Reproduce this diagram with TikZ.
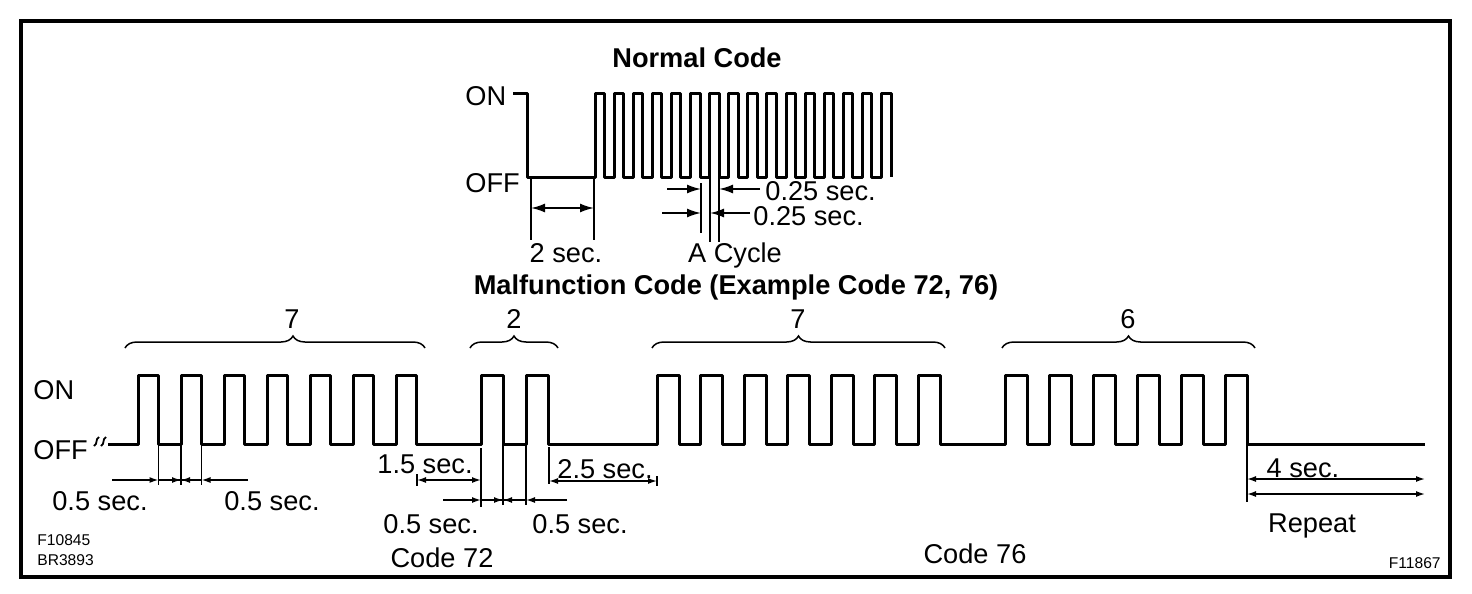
\documentclass[tikz,border=0pt]{standalone}
\usepackage{fontspec}
\setmainfont{Liberation Sans}
\usetikzlibrary{arrows.meta,decorations.pathreplacing}
\tikzset{
    wave/.style={line width=1.5pt, line join=round},
    dimline/.style={line width=0.75pt, >={Latex[length=4.5pt,width=3pt]}},
    bigdim/.style={line width=0.9pt, >={Latex[length=7pt,width=4.5pt]}},
    codebrace/.style={decorate, decoration={brace, amplitude=6pt}, line width=0.75pt},
    lbl/.style={inner sep=0pt, anchor=base, font=\fontsize{13.6}{15}\selectfont},
    heading/.style={inner sep=0pt, anchor=base, font=\fontsize{13.6}{15}\selectfont\bfseries},
    smalltext/.style={inner sep=0pt, font=\fontsize{7.8}{9}\selectfont}
}
\begin{document}
\begin{tikzpicture}[x=0.5pt, y=-0.5pt]
        \useasboundingbox (0,0) rectangle (1472,594);
        % Frame:
        \draw[line width=1.6pt] (21,21) rectangle (1450,577);
        % Normal code:
        \node[heading](NormTitle) at (697,67){Normal Code};
        \node[lbl, anchor=base west](NormOn) at (465,105){ON};
        \node[lbl, anchor=base west](NormOff) at (465,192){OFF};
        \draw[wave] (513,93) -- (527,93) -- (527,177) -- (595,177)
            \foreach \k in {0,...,15} { -- (595+19.1*\k,177) -- (595+19.1*\k,93) -- (604.5+19.1*\k,93) -- (604.5+19.1*\k,177) };
        \draw[bigdim] (531,177) -- (531,240);
        \draw[bigdim] (594,177) -- (594,240);
        \draw[bigdim, <->] (531,208) -- (594,208);
        \node[lbl](TwoSec) at (566,262){2 sec.};
        \draw[bigdim] (701,183) -- (701,233);
        \draw[bigdim] (710,177) -- (710,242);
        \draw[bigdim] (719,177) -- (719,242);
        \draw[bigdim, ->] (667,189) -- (701,189);
        \draw[bigdim, ->] (760,189) -- (719,189);
        \draw[bigdim, ->] (662,213) -- (701,213);
        \draw[bigdim, ->] (750,213) -- (710,213);
        \node[lbl, anchor=base west](QuarterA) at (765,200){0.25 sec.};
        \node[lbl, anchor=base west](QuarterB) at (753,225){0.25 sec.};
        \node[lbl](Cycle) at (735,262){A Cycle};
        % Malfunction code:
        \node[heading](MalTitle) at (736,294){Malfunction Code (Example Code 72, 76)};
        \node[lbl, anchor=base west](MalOn) at (33,399){ON};
        \node[lbl, anchor=base west](MalOff) at (33,459){OFF};
        \draw[line width=0.9pt] (94,446) .. controls (98,444) and (95,439) .. (99,437);
        \draw[line width=0.9pt] (101,446) .. controls (105,444) and (102,439) .. (106,437);
        \draw[wave] (108,444)
            \foreach \k in {0,...,6} { -- (138+43*\k,444) -- (138+43*\k,375) -- (158.5+43*\k,375) -- (158.5+43*\k,444) }
            \foreach \k in {0,1} { -- (481+45*\k,444) -- (481+45*\k,375) -- (503+45*\k,375) -- (503+45*\k,444) }
            \foreach \k in {0,...,6} { -- (657+43.5*\k,444) -- (657+43.5*\k,375) -- (679+43.5*\k,375) -- (679+43.5*\k,444) }
            \foreach \k in {0,...,5} { -- (1005+44*\k,444) -- (1005+44*\k,375) -- (1027+44*\k,375) -- (1027+44*\k,444) }
            -- (1425,444);
        % Braces:
        \draw[codebrace, decoration={aspect=0.56}] (125,348) -- (425,348);
        \node[lbl](DigitA) at (292,328){7};
        \draw[codebrace] (470,348) -- (558,348);
        \node[lbl](DigitB) at (514,328){2};
        \draw[codebrace] (652,348) -- (945,348);
        \node[lbl](DigitC) at (798,328){7};
        \draw[codebrace] (1002,348) -- (1255,348);
        \node[lbl](DigitD) at (1128,328){6};
        % Timing of code 72:
        \draw[dimline] (158.5,444) -- (158.5,485);
        \draw[dimline] (181,444) -- (181,485);
        \draw[dimline] (201.5,444) -- (201.5,485);
        \draw[dimline, ->] (112,480) -- (158.5,480);
        \draw[dimline] (158.5,480) -- (201.5,480);
        \draw[dimline, ->] (170,480) -- (181,480);
        \draw[dimline, ->] (192,480) -- (181,480);
        \draw[dimline, ->] (248,480) -- (201.5,480);
        \node[lbl](HalfA) at (100,510){0.5 sec.};
        \node[lbl](HalfB) at (272,510){0.5 sec.};
        \draw[dimline] (417,474) -- (417,486);
        \draw[dimline, <->] (417,480) -- (481,480);
        \draw[dimline] (481,448) -- (481,507);
        \draw[dimline] (503,444) -- (503,505);
        \draw[dimline] (526,444) -- (526,505);
        \draw[dimline, ->] (443,500) -- (481,500);
        \draw[dimline] (481,500) -- (526,500);
        \draw[dimline, ->] (494,500) -- (503,500);
        \draw[dimline, ->] (512,500) -- (503,500);
        \draw[dimline, ->] (567,500) -- (526,500);
        \node[lbl](OneFive) at (425,473){1.5 sec.};
        \node[lbl](HalfC) at (431,533){0.5 sec.};
        \node[lbl](HalfD) at (580,533){0.5 sec.};
        \draw[dimline] (549,447) -- (549,484);
        \draw[dimline, <->] (549,481) -- (657,481);
        \draw[dimline] (657,476) -- (657,486);
        \node[lbl](TwoFive) at (605,478){2.5 sec.};
        % Pause and repeat:
        \draw[dimline] (1247,444) -- (1247,502);
        \draw[dimline, <->] (1247,479) -- (1425,479);
        \draw[dimline, <->] (1247,494) -- (1425,494);
        \node[lbl](FourSec) at (1303,477){4 sec.};
        \node[lbl](Repeat) at (1312,532){Repeat};
        \node[lbl](CodeA) at (442,567){Code 72};
        \node[lbl](CodeB) at (975,563){Code 76};
        \node[smalltext, anchor=base west](RefA) at (37,545.5){F10845};
        \node[smalltext, anchor=base west](RefB) at (37,565.5){BR3893};
        \node[smalltext, anchor=base east](RefC) at (1441,568.5){F11867};
    \end{tikzpicture}
\end{document}
